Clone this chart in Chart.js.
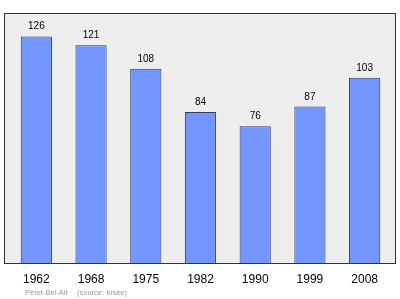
<!DOCTYPE html>
<html><head><meta charset="utf-8">
<script src="https://cdn.jsdelivr.net/npm/chart.js@4/dist/chart.umd.min.js"></script>
<style>html,body{margin:0;padding:0;background:#fff}#w{width:400px;height:299px;position:relative}</style>
</head><body><div id="w"><canvas id="c" width="400" height="299"></canvas></div>
<script>
const years = ["1962","1968","1975","1982","1990","1999","2008"];
const population = [126,121,108,84,76,87,103];
const footerPlace = "Péret-Bel-Air";
const footerSource = "(source: Insee)";

const frame = {
  id: 'frame',
  beforeDraw(chart) {
    const {ctx} = chart;
    ctx.save();
    ctx.fillStyle = '#eeeeee';
    ctx.fillRect(4.5, 13.5, 391, 250);
    ctx.restore();
  },
  afterDatasetsDraw(chart) {
    const {ctx} = chart;
    ctx.save();
    ctx.strokeStyle = '#333333';
    ctx.lineWidth = 1;
    ctx.strokeRect(4.5, 13.5, 391, 250);
    const meta = chart.getDatasetMeta(0);
    ctx.fillStyle = '#000';
    ctx.font = '10px "Liberation Sans"';
    ctx.textAlign = 'center';
    ctx.textBaseline = 'alphabetic';
    meta.data.forEach((bar, i) => {
      ctx.fillText(String(population[i]), bar.x, bar.y - 7);
    });
    ctx.fillStyle = '#999999';
    ctx.font = '7.5px "Liberation Sans"';
    ctx.textAlign = 'left';
    ctx.fillText(footerPlace, 25, 295);
    ctx.fillText(footerSource, 77, 295);
    ctx.restore();
  }
};

new Chart(document.getElementById('c'), {
  type: 'bar',
  data: { labels: years, datasets: [{ data: population, backgroundColor: '#7496ff', borderColor: '#2c3a6b', borderWidth: 1, barPercentage: 0.57, categoryPercentage: 1 }] },
  options: {
    responsive: false, animation: false, devicePixelRatio: 1,
    layout: { padding: { left: 9, right: 8, top: 13, bottom: 0 } },
    plugins: { legend: { display: false }, tooltip: { enabled: false } },
    scales: {
      x: { grid: { display: false, drawTicks: false }, border: { display: false },
           ticks: { color: '#000', font: { family: 'Liberation Sans', size: 12 }, padding: 9, maxRotation: 0 },
           afterFit(s) { s.height = 36; } },
      y: { display: false, min: 0, max: 139 }
    }
  },
  plugins: [frame]
});
</script></body></html>
